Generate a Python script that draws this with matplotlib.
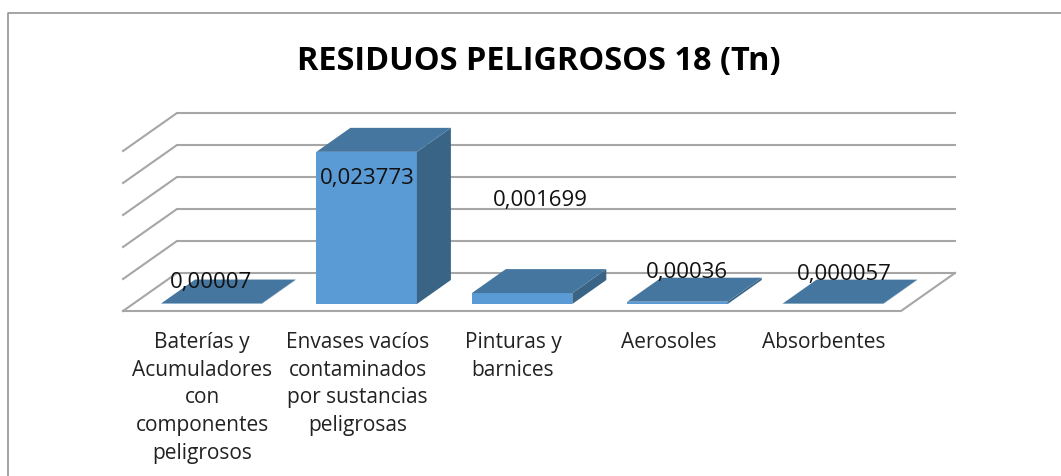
import matplotlib
matplotlib.use("Agg")
import matplotlib.pyplot as plt
from matplotlib.patches import Polygon

categories = ["Baterías y\nAcumuladores\ncon\ncomponentes\npeligrosos",
              "Envases vacíos\ncontaminados\npor sustancias\npeligrosas",
              "Pinturas y\nbarnices", "Aerosoles", "Absorbentes"]
values = [0.00007, 0.023773, 0.001699, 0.00036, 0.000057]
value_labels = ["0,00007", "0,023773", "0,001699", "0,00036", "0,000057"]
grid_values = [0, 0.005, 0.01, 0.015, 0.02, 0.025]
title = "RESIDUOS PELIGROSOS 18 (Tn)"

FRONT, TOP, SIDE = "#5B9BD5", "#44769F", "#3A6486"
GRID = "#A6A6A6"
BODY = ["Open Sans", "DejaVu Sans"]

fig = plt.figure(figsize=(10.61, 4.77), dpi=100)
ax = fig.add_axes([0, 0, 1, 1])
ax.set_xlim(0, 1061)
ax.set_ylim(476, -1)
ax.axis("off")

# pseudo-3D projection of the chart's scales onto the image
px_per_unit = 32 / 0.005
floor_x0, floor_x1, floor_y = 123, 901, 311
dx, dy = 54, -38            # depth of the floor
bar_dx, bar_dy = 34, -24    # depth of a bar
bar_base = 304
first_left, step, bar_w = 161, 155.4, 100.5

# frame
ax.plot([8, 8, 1061], [477, 13, 13], color="#8C8C8C", lw=1.1, zorder=1)

# walls and gridlines
for g in grid_values:
    h = g * px_per_unit
    ax.plot([floor_x0, floor_x0 + dx, floor_x1 + dx],
            [floor_y - h, floor_y - h + dy, floor_y - h + dy],
            color=GRID, lw=1.5, zorder=2, solid_joinstyle="miter")
# floor outline
ax.plot([floor_x0, floor_x1, floor_x1 + dx], [floor_y, floor_y, floor_y + dy],
        color=GRID, lw=1.5, zorder=2)

# bars
for i, v in enumerate(values):
    l = first_left + i * step
    r = l + bar_w
    t = bar_base - v * px_per_unit
    b = bar_base
    ax.add_patch(Polygon([(l, b), (r, b), (r, t), (l, t)], fc=FRONT, ec="none", zorder=3))
    ax.add_patch(Polygon([(r, b), (r + bar_dx, b + bar_dy), (r + bar_dx, t + bar_dy), (r, t)],
                         fc=SIDE, ec="none", zorder=3))
    ax.add_patch(Polygon([(l, t), (r, t), (r + bar_dx, t + bar_dy), (l + bar_dx, t + bar_dy)],
                         fc=TOP, ec="none", zorder=3))

# value labels
label_x = [211, 367, 540, 687, 844]
label_y = [282, 178, 200, 272, 274]
for x, y, s in zip(label_x, label_y, value_labels):
    ax.text(x, y, s, ha="center", va="center", fontsize=16, color="#111111",
            family=BODY, zorder=5)

# category labels
for i, c in enumerate(categories):
    ax.text(first_left + i * step + bar_w / 2 - 9, 331, c, ha="center", va="top",
            fontsize=15, color="#222222", family=BODY, linespacing=1.42, zorder=5)

ax.text(539, 61, title, ha="center", va="center", fontsize=23.4, fontweight="bold",
        color="#000000", family=BODY, zorder=5)

fig.savefig("out.png", dpi=100)
